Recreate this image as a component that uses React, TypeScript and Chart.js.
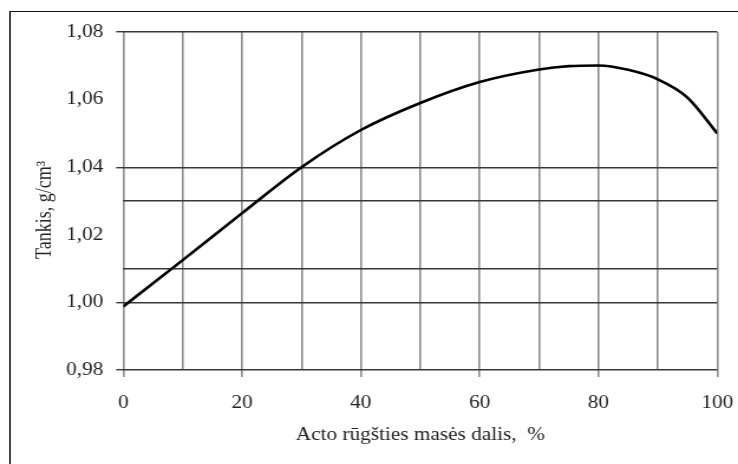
import React, { useEffect, useRef } from "react";
import { Chart, registerables } from "chart.js";

Chart.register(...registerables);

// Data
const acidShare: number[] = [0, 10, 20, 30, 40, 50, 60, 70, 75, 80, 85, 90, 95, 100];
const density: number[] = [0.9988, 1.0125, 1.0264, 1.04, 1.051, 1.059, 1.0652, 1.0689, 1.0699, 1.0701, 1.0688, 1.066, 1.0606, 1.05];
const yGridValues: number[] = [98, 100, 101, 103, 104, 108]; // hundredths with a drawn gridline
const yTickMarkValues: number[] = [98, 100, 104, 108];
const xTitle = "Acto rūgšties masės dalis,  %";
const yTitle = "Tankis, g/cm³";

// The reference image is horizontally stretched; draw at a narrower internal width and stretch via CSS
const OUT_W = 738;
const OUT_H = 464;
const IN_W = 625;
const SX = OUT_W / IN_W;

const FONT = "'Liberation Serif', 'Times New Roman', serif";

export default function App() {
  const ref = useRef<HTMLCanvasElement | null>(null);

  useEffect(() => {
    if (!ref.current) return;
    const hund = (v: number) => Math.round(v * 100);
    const chart = new Chart(ref.current, {
      type: "line",
      data: {
        datasets: [
          {
            data: acidShare.map((x, i) => ({ x, y: density[i] })),
            borderColor: "#000",
            borderWidth: 2.6,
            pointRadius: 0,
            cubicInterpolationMode: "monotone",
            fill: false,
          },
        ],
      },
      options: {
        responsive: false,
        animation: false,
        devicePixelRatio: 1,
        layout: { padding: { left: 0, right: IN_W - 717.2 / SX, top: 32, bottom: 0 } },
        plugins: { legend: { display: false }, tooltip: { enabled: false } },
        scales: {
          x: {
            type: "linear",
            min: 0,
            max: 100,
            afterFit: (s: any) => {
              s.height = OUT_H - 370;
              s.paddingLeft = 0;
              s.paddingRight = 0;
            },
            border: { display: false },
            grid: {
              color: "#8c8c8c",
              lineWidth: 1.6,
              drawTicks: true,
              tickLength: 7,
              tickColor: (ctx: any) =>
                ctx.tick && Math.round(ctx.tick.value) % 20 === 0 ? "#8c8c8c" : "rgba(0,0,0,0)",
            },
            ticks: {
              stepSize: 10,
              autoSkip: false,
              maxRotation: 0,
              padding: 15,
              color: "#222",
              font: { family: FONT, size: 18 },
              callback: (v: any) => (Math.round(Number(v)) % 20 === 0 ? String(Math.round(Number(v))) : ""),
            },
            title: {
              display: true,
              text: xTitle,
              color: "#222",
              font: { family: FONT, size: 18 },
              padding: { top: 0, bottom: 18 },
            },
          },
          y: {
            type: "linear",
            min: 0.98,
            max: 1.08,
            afterFit: (s: any) => {
              s.width = 123.3 / SX;
            },
            border: { display: false },
            grid: {
              color: (ctx: any) =>
                ctx.tick && yGridValues.includes(hund(ctx.tick.value)) ? "#383838" : "rgba(0,0,0,0)",
              lineWidth: 1.4,
              drawTicks: true,
              tickLength: 6,
              tickColor: (ctx: any) =>
                ctx.tick && yTickMarkValues.includes(hund(ctx.tick.value)) ? "#383838" : "rgba(0,0,0,0)",
            },
            ticks: {
              stepSize: 0.01,
              autoSkip: false,
              padding: 11,
              color: "#222",
              font: { family: FONT, size: 18 },
              callback: (v: any) => {
                const h = hund(Number(v));
                return h % 2 === 0 ? (h / 100).toFixed(2).replace(".", ",") : "";
              },
            },
            title: {
              display: true,
              text: yTitle + "    ",
              color: "#222",
              font: { family: FONT, size: 18 },
              padding: { top: 27.3, bottom: 0 },
            },
          },
        },
      },
    } as any);
    return () => chart.destroy();
  }, []);

  return (
    <div
      style={{
        position: "absolute",
        left: 0,
        top: 0,
        width: OUT_W,
        height: OUT_H,
        overflow: "hidden",
        background: "#fff",
      }}
    >
      <div
        style={{
          position: "absolute",
          left: 9,
          top: 11,
          width: 2000,
          height: 2000,
          borderLeft: "2px solid #4a4a4a",
          borderTop: "1.5px solid #111",
        }}
      />
      <canvas
        ref={ref}
        width={IN_W}
        height={OUT_H}
        style={{ position: "absolute", left: 0, top: 0, width: OUT_W + "px", height: OUT_H + "px" }}
      />
    </div>
  );
}
